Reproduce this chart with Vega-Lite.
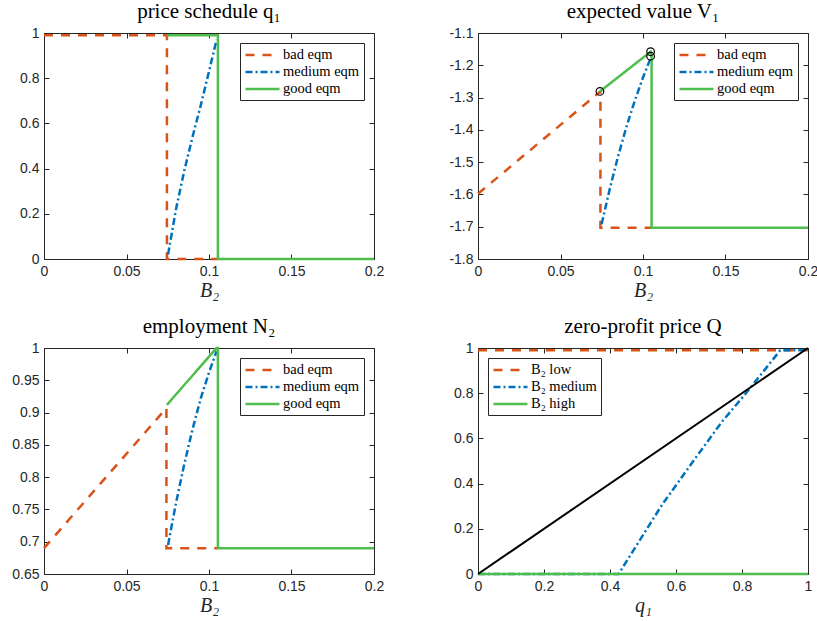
{
  "$schema": "https://vega.github.io/schema/vega-lite/v6.json",
  "background": "white",
  "padding": {"left": 11, "top": 0, "right": 5, "bottom": 5},
  "datasets": {
    "q1": [
      {"s": "bad eqm", "i": 0, "x": 0, "y": 0.99},
      {"s": "bad eqm", "i": 1, "x": 0.0745, "y": 0.99},
      {"s": "bad eqm", "i": 2, "x": 0.0745, "y": 0},
      {"s": "bad eqm", "i": 3, "x": 0.105, "y": 0},
      {"s": "medium eqm", "i": 0, "x": 0.0752, "y": 0.02},
      {"s": "medium eqm", "i": 1, "x": 0.08, "y": 0.22},
      {"s": "medium eqm", "i": 2, "x": 0.085, "y": 0.39},
      {"s": "medium eqm", "i": 3, "x": 0.09, "y": 0.54},
      {"s": "medium eqm", "i": 4, "x": 0.095, "y": 0.68},
      {"s": "medium eqm", "i": 5, "x": 0.1, "y": 0.83},
      {"s": "medium eqm", "i": 6, "x": 0.1046, "y": 0.97},
      {"s": "good eqm", "i": 0, "x": 0.0745, "y": 0.99},
      {"s": "good eqm", "i": 1, "x": 0.1054, "y": 0.99},
      {"s": "good eqm", "i": 2, "x": 0.1054, "y": 0},
      {"s": "good eqm", "i": 3, "x": 0.2, "y": 0}
    ],
    "v1": [
      {"s": "bad eqm", "i": 0, "x": 0, "y": -1.598},
      {"s": "bad eqm", "i": 1, "x": 0.0742, "y": -1.281},
      {"s": "bad eqm", "i": 2, "x": 0.0742, "y": -1.703},
      {"s": "bad eqm", "i": 3, "x": 0.105, "y": -1.703},
      {"s": "medium eqm", "i": 0, "x": 0.0749, "y": -1.692},
      {"s": "medium eqm", "i": 1, "x": 0.08, "y": -1.58},
      {"s": "medium eqm", "i": 2, "x": 0.085, "y": -1.48},
      {"s": "medium eqm", "i": 3, "x": 0.09, "y": -1.39},
      {"s": "medium eqm", "i": 4, "x": 0.095, "y": -1.31},
      {"s": "medium eqm", "i": 5, "x": 0.1, "y": -1.238},
      {"s": "medium eqm", "i": 6, "x": 0.1046, "y": -1.178},
      {"s": "good eqm", "i": 0, "x": 0.0739, "y": -1.281},
      {"s": "good eqm", "i": 1, "x": 0.1046, "y": -1.158},
      {"s": "good eqm", "i": 2, "x": 0.1052, "y": -1.17},
      {"s": "good eqm", "i": 3, "x": 0.1052, "y": -1.703},
      {"s": "good eqm", "i": 4, "x": 0.2, "y": -1.703}
    ],
    "v1pts": [
      {"x": 0.0739, "y": -1.281},
      {"x": 0.1046, "y": -1.158},
      {"x": 0.1046, "y": -1.172}
    ],
    "n2": [
      {"s": "bad eqm", "i": 0, "x": 0, "y": 0.69},
      {"s": "bad eqm", "i": 1, "x": 0.0742, "y": 0.907},
      {"s": "bad eqm", "i": 2, "x": 0.0742, "y": 0.69},
      {"s": "bad eqm", "i": 3, "x": 0.105, "y": 0.69},
      {"s": "medium eqm", "i": 0, "x": 0.0752, "y": 0.695},
      {"s": "medium eqm", "i": 1, "x": 0.08, "y": 0.76},
      {"s": "medium eqm", "i": 2, "x": 0.085, "y": 0.82},
      {"s": "medium eqm", "i": 3, "x": 0.09, "y": 0.874},
      {"s": "medium eqm", "i": 4, "x": 0.095, "y": 0.922},
      {"s": "medium eqm", "i": 5, "x": 0.1, "y": 0.962},
      {"s": "medium eqm", "i": 6, "x": 0.1046, "y": 0.995},
      {"s": "good eqm", "i": 0, "x": 0.0745, "y": 0.912},
      {"s": "good eqm", "i": 1, "x": 0.1046, "y": 1.0},
      {"s": "good eqm", "i": 2, "x": 0.1054, "y": 1.0},
      {"s": "good eqm", "i": 3, "x": 0.1054, "y": 0.69},
      {"s": "good eqm", "i": 4, "x": 0.2, "y": 0.69}
    ],
    "qz": [
      {"s": "B₂ low", "i": 0, "x": 0, "y": 0.99},
      {"s": "B₂ low", "i": 1, "x": 1, "y": 0.99},
      {"s": "B₂ medium", "i": 0, "x": 0, "y": 0},
      {"s": "B₂ medium", "i": 1, "x": 0.426, "y": 0},
      {"s": "B₂ medium", "i": 2, "x": 0.5576, "y": 0.306},
      {"s": "B₂ medium", "i": 3, "x": 0.658, "y": 0.511},
      {"s": "B₂ medium", "i": 4, "x": 0.739, "y": 0.673},
      {"s": "B₂ medium", "i": 5, "x": 0.815, "y": 0.805},
      {"s": "B₂ medium", "i": 6, "x": 0.916, "y": 0.99},
      {"s": "B₂ medium", "i": 7, "x": 1, "y": 0.99},
      {"s": "B₂ high", "i": 0, "x": 0, "y": 0},
      {"s": "B₂ high", "i": 1, "x": 1, "y": 0}
    ],
    "diag": [
      {"x": 0, "y": 0},
      {"x": 1, "y": 1}
    ]
  },
  "columns": 2,
  "spacing": {"row": 89, "column": 104},
  "bounds": "flush",
  "resolve": {"scale": {"color": "independent", "strokeDash": "independent", "x": "independent", "y": "independent"}},
  "concat": [
    {
      "width": 330, "height": 226,
      "title": {"text": "price schedule q₁", "fontWeight": "normal"},
      "resolve": {"axis": {"x": "independent", "y": "independent"}},
      "layer": [
        {
          "data": {"name": "q1"},
          "mark": {"type": "line", "strokeWidth": 2.5},
          "encoding": {
            "x": {"field": "x", "type": "quantitative", "scale": {"domain": [0, 0.2], "nice": false, "zero": false}, "axis": {"orient": "bottom", "values": [0, 0.05, 0.1, 0.15, 0.2], "format": "~g", "title": "B₂"}},
            "y": {"field": "y", "type": "quantitative", "scale": {"domain": [0, 1], "nice": false, "zero": false}, "axis": {"orient": "left", "values": [0, 0.2, 0.4, 0.6, 0.8, 1], "format": "~g", "title": null}},
            "color": {"field": "s", "type": "nominal", "scale": {"domain": ["bad eqm", "medium eqm", "good eqm"], "range": ["#D95319", "#0072BD", "#4DBE4D"]}, "legend": {"orient": "top-right", "title": null, "labelFont": "Liberation Serif"}},
            "strokeDash": {"field": "s", "type": "nominal", "scale": {"domain": ["bad eqm", "medium eqm", "good eqm"], "range": [[9, 8], [7, 3, 2, 3], [1, 0]]}, "legend": {"orient": "top-right", "title": null, "labelFont": "Liberation Serif"}},
            "order": {"field": "i", "type": "quantitative"}
          }
        },
        {
          "data": {"name": "q1"},
          "mark": {"type": "point", "opacity": 0},
          "encoding": {
            "x": {"field": "x", "type": "quantitative", "axis": {"orient": "top", "values": [0, 0.05, 0.1, 0.15, 0.2], "labels": false, "title": null}},
            "y": {"field": "y", "type": "quantitative", "axis": {"orient": "right", "values": [0, 0.2, 0.4, 0.6, 0.8, 1], "labels": false, "title": null}}
          }
        }
      ]
    },
    {
      "width": 330, "height": 226,
      "title": {"text": "expected value V₁", "fontWeight": "normal"},
      "resolve": {"axis": {"x": "independent", "y": "independent"}},
      "layer": [
        {
          "data": {"name": "v1"},
          "mark": {"type": "line", "strokeWidth": 2.5},
          "encoding": {
            "x": {"field": "x", "type": "quantitative", "scale": {"domain": [0, 0.2], "nice": false, "zero": false}, "axis": {"orient": "bottom", "values": [0, 0.05, 0.1, 0.15, 0.2], "format": "~g", "title": "B₂"}},
            "y": {"field": "y", "type": "quantitative", "scale": {"domain": [-1.8, -1.1], "nice": false, "zero": false}, "axis": {"orient": "left", "values": [-1.8, -1.7, -1.6, -1.5, -1.4, -1.3, -1.2, -1.1], "format": ".1f", "title": null, "labelOverlap": false}},
            "color": {"field": "s", "type": "nominal", "scale": {"domain": ["bad eqm", "medium eqm", "good eqm"], "range": ["#D95319", "#0072BD", "#4DBE4D"]}, "legend": {"orient": "top-right", "title": null, "labelFont": "Liberation Serif"}},
            "strokeDash": {"field": "s", "type": "nominal", "scale": {"domain": ["bad eqm", "medium eqm", "good eqm"], "range": [[9, 8], [7, 3, 2, 3], [1, 0]]}, "legend": {"orient": "top-right", "title": null, "labelFont": "Liberation Serif"}},
            "order": {"field": "i", "type": "quantitative"}
          }
        },
        {
          "data": {"name": "v1pts"},
          "mark": {"type": "point", "shape": "circle", "filled": false, "color": "black", "size": 58, "strokeWidth": 1.2, "opacity": 1},
          "encoding": {
            "x": {"field": "x", "type": "quantitative", "axis": {"orient": "top", "values": [0, 0.05, 0.1, 0.15, 0.2], "labels": false, "title": null}},
            "y": {"field": "y", "type": "quantitative", "axis": {"orient": "right", "values": [-1.8, -1.7, -1.6, -1.5, -1.4, -1.3, -1.2, -1.1], "labels": false, "title": null}}
          }
        }
      ]
    },
    {
      "width": 330, "height": 226,
      "title": {"text": "employment N₂", "fontWeight": "normal"},
      "resolve": {"axis": {"x": "independent", "y": "independent"}},
      "layer": [
        {
          "data": {"name": "n2"},
          "mark": {"type": "line", "strokeWidth": 2.5},
          "encoding": {
            "x": {"field": "x", "type": "quantitative", "scale": {"domain": [0, 0.2], "nice": false, "zero": false}, "axis": {"orient": "bottom", "values": [0, 0.05, 0.1, 0.15, 0.2], "format": "~g", "title": "B₂"}},
            "y": {"field": "y", "type": "quantitative", "scale": {"domain": [0.65, 1], "nice": false, "zero": false}, "axis": {"orient": "left", "values": [0.65, 0.7, 0.75, 0.8, 0.85, 0.9, 0.95, 1], "format": "~g", "title": null}},
            "color": {"field": "s", "type": "nominal", "scale": {"domain": ["bad eqm", "medium eqm", "good eqm"], "range": ["#D95319", "#0072BD", "#4DBE4D"]}, "legend": {"orient": "top-right", "title": null, "labelFont": "Liberation Serif"}},
            "strokeDash": {"field": "s", "type": "nominal", "scale": {"domain": ["bad eqm", "medium eqm", "good eqm"], "range": [[9, 8], [7, 3, 2, 3], [1, 0]]}, "legend": {"orient": "top-right", "title": null, "labelFont": "Liberation Serif"}},
            "order": {"field": "i", "type": "quantitative"}
          }
        },
        {
          "data": {"name": "n2"},
          "mark": {"type": "point", "opacity": 0},
          "encoding": {
            "x": {"field": "x", "type": "quantitative", "axis": {"orient": "top", "values": [0, 0.05, 0.1, 0.15, 0.2], "labels": false, "title": null}},
            "y": {"field": "y", "type": "quantitative", "axis": {"orient": "right", "values": [0.65, 0.7, 0.75, 0.8, 0.85, 0.9, 0.95, 1], "labels": false, "title": null}}
          }
        }
      ]
    },
    {
      "width": 330, "height": 226,
      "title": {"text": "zero-profit price Q", "fontWeight": "normal"},
      "resolve": {"axis": {"x": "independent", "y": "independent"}},
      "layer": [
        {
          "data": {"name": "qz"},
          "mark": {"type": "line", "strokeWidth": 2.5},
          "encoding": {
            "x": {"field": "x", "type": "quantitative", "scale": {"domain": [0, 1], "nice": false, "zero": false}, "axis": {"orient": "bottom", "values": [0, 0.2, 0.4, 0.6, 0.8, 1], "format": "~g", "title": "q₁"}},
            "y": {"field": "y", "type": "quantitative", "scale": {"domain": [0, 1], "nice": false, "zero": false}, "axis": {"orient": "left", "values": [0, 0.2, 0.4, 0.6, 0.8, 1], "format": "~g", "title": null}},
            "color": {"field": "s", "type": "nominal", "scale": {"domain": ["B₂ low", "B₂ medium", "B₂ high"], "range": ["#D95319", "#0072BD", "#4DBE4D"]}, "legend": {"orient": "top-left", "title": null, "labelFont": "Liberation Serif"}},
            "strokeDash": {"field": "s", "type": "nominal", "scale": {"domain": ["B₂ low", "B₂ medium", "B₂ high"], "range": [[9, 8], [7, 3, 2, 3], [1, 0]]}, "legend": {"orient": "top-left", "title": null, "labelFont": "Liberation Serif"}},
            "order": {"field": "i", "type": "quantitative"}
          }
        },
        {
          "data": {"name": "diag"},
          "mark": {"type": "line", "strokeWidth": 2, "color": "black"},
          "encoding": {
            "x": {"field": "x", "type": "quantitative", "axis": {"orient": "top", "values": [0, 0.2, 0.4, 0.6, 0.8, 1], "labels": false, "title": null}},
            "y": {"field": "y", "type": "quantitative", "axis": {"orient": "right", "values": [0, 0.2, 0.4, 0.6, 0.8, 1], "labels": false, "title": null}}
          }
        }
      ]
    }
  ],
  "config": {
    "view": {"stroke": "#262626", "strokeWidth": 1},
    "axis": {
      "domain": false, "offset": -5, "tickColor": "#262626", "labelColor": "#262626",
      "labelFont": "Liberation Sans", "labelFontSize": 14, "tickSize": 5, "tickWidth": 1, "labelPadding": 5,
      "labelOverlap": false, "labelFlush": false,
      "grid": false, "titleFont": "Liberation Serif", "titleFontSize": 20, "titleFontStyle": "italic",
      "titleFontWeight": "normal", "titleColor": "#262626", "titlePadding": 2
    },
    "title": {"font": "Liberation Serif", "fontSize": 21, "fontWeight": "normal", "color": "#000000", "offset": 4},
    "style": {"group-title": {"font": "Liberation Serif", "fontSize": 21, "fontWeight": "normal", "fill": "#000000"}},
    "legend": {
      "offset": 10, "padding": 4, "strokeColor": "#262626", "fillColor": "white", "cornerRadius": 0,
      "labelFont": "Liberation Serif", "labelFontSize": 14.5, "labelColor": "#000000", "labelOffset": 23,
      "symbolType": "M-1,0H4.23", "symbolSize": 169, "symbolStrokeWidth": 2.5, "rowPadding": 2
    },
    "locale": {"number": {"decimal": ".", "thousands": ",", "grouping": [3], "currency": ["$", ""], "minus": "-"}}
  }
}
